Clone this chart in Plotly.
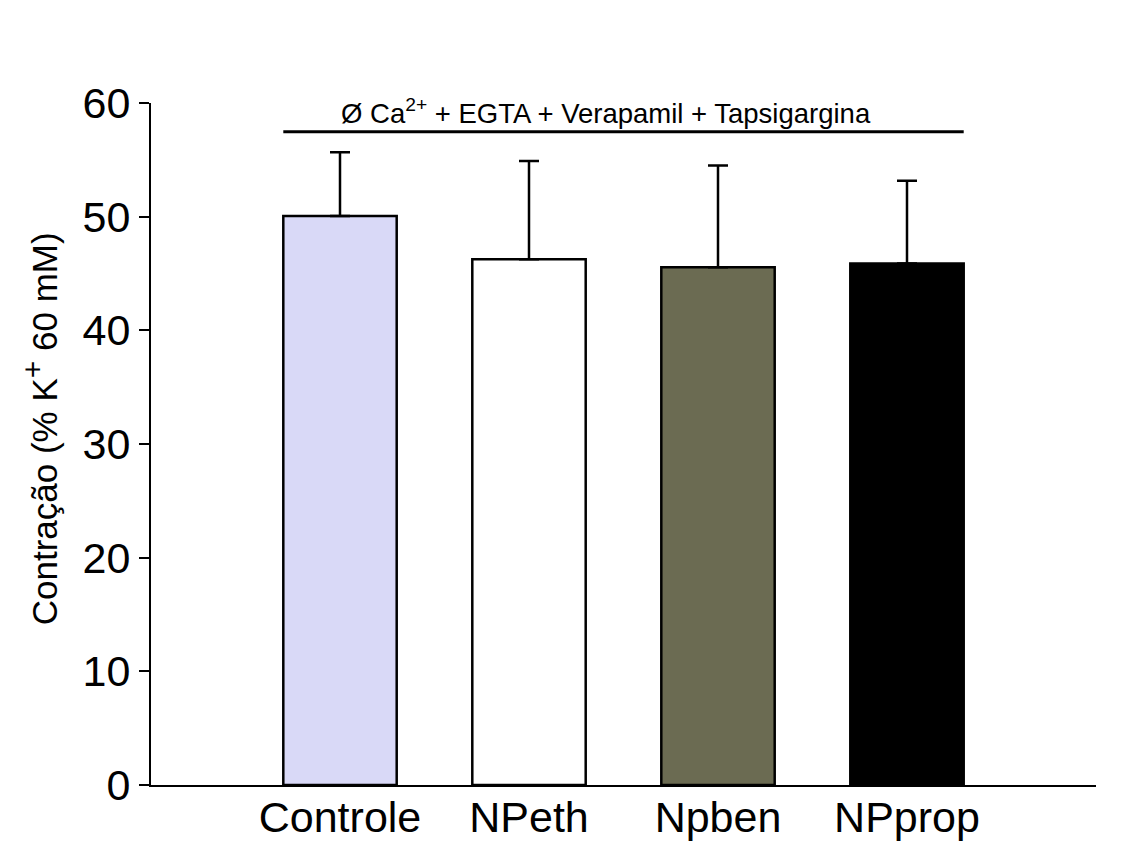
import plotly.graph_objects as go

categories = ["Controle", "NPeth", "Npben", "NPprop"]
means = [50.05, 46.26, 45.56, 45.88]
sem = [5.62, 8.64, 8.94, 7.27]
bar_colors = ["#D9D9F7", "#FFFFFF", "#6B6B52", "#000000"]
y_ticks = [0, 10, 20, 30, 40, 50, 60]
bracket_label = "Ø Ca<sup>2+</sup> + EGTA + Verapamil + Tapsigargina"
y_title = "Contração (% K<sup><span style='font-size:30px'>+</span></sup> 60 mM)"
bracket_y = 57.46
bar_width = 0.6

FONT = "Liberation Sans, Arial, sans-serif"

xpos = list(range(len(categories)))

fig = go.Figure()
fig.add_trace(go.Bar(
    x=xpos, y=means, width=bar_width,
    marker=dict(color=bar_colors, line=dict(color="black", width=2.5)),
    error_y=dict(type="data", array=sem, symmetric=False, arrayminus=[0]*len(sem),
                 color="black", thickness=2.5, width=10),
    showlegend=False,
))

# bracket line spanning all bars
fig.add_shape(type="line", xref="x", yref="y",
              x0=xpos[0] - bar_width / 2, x1=xpos[-1] + bar_width / 2,
              y0=bracket_y, y1=bracket_y,
              line=dict(color="black", width=3))
fig.add_annotation(x=(xpos[0] + xpos[-1]) / 2 - 0.09, y=bracket_y, xref="x", yref="y",
                   text=bracket_label, showarrow=False, yanchor="bottom", yshift=1,
                   font=dict(family=FONT, size=27.5, color="black"))

# y-axis title as rotated annotation
fig.add_annotation(x=-0.1175, y=0.523, xref="paper", yref="paper",
                   text=y_title, showarrow=False, textangle=-90,
                   xanchor="center", yanchor="middle",
                   font=dict(family=FONT, size=35, color="black"))

fig.update_layout(
    width=1129, height=844,
    margin=dict(l=151, r=33, t=103, b=59, pad=0, autoexpand=False),
    paper_bgcolor="white", plot_bgcolor="white",
    font=dict(family=FONT, color="black"),
    bargap=0.4,
)
fig.update_xaxes(
    range=[-1, 4], tickmode="array", tickvals=xpos, ticktext=categories,
    showline=True, linecolor="black", linewidth=2, ticks="",
    showgrid=False, zeroline=False, automargin=False,
    ticklabelstandoff=-7,
    tickfont=dict(family=FONT, size=43, color="black"),
)
fig.update_yaxes(
    range=[0, 60], tickmode="array", tickvals=y_ticks,
    showline=True, linecolor="black", linewidth=2,
    ticks="outside", ticklen=10, tickwidth=2, tickcolor="black",
    showgrid=False, zeroline=False, automargin=False,
    tickfont=dict(family=FONT, size=43, color="black"),
)

fig.write_html("out.html")
